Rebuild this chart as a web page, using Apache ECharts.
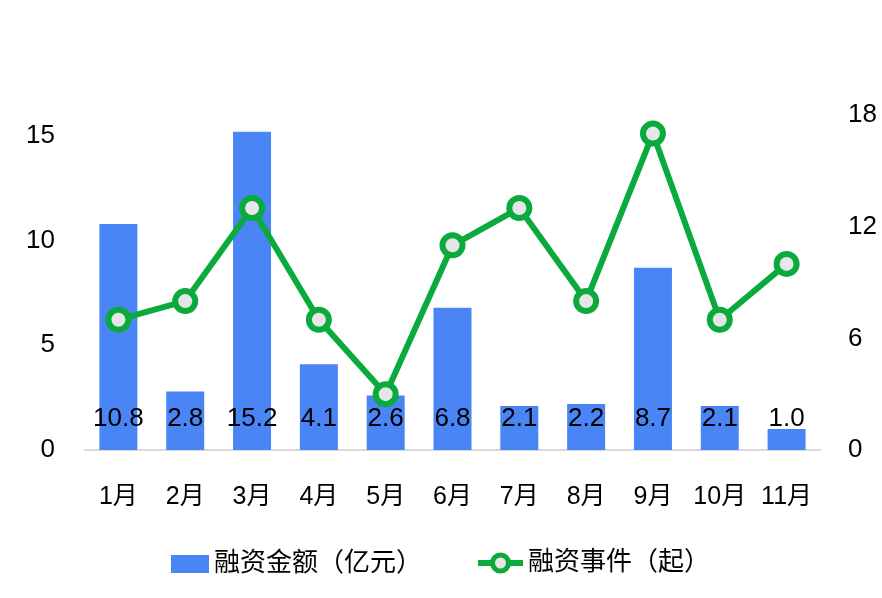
<!DOCTYPE html>
<html><head><meta charset="utf-8">
<script src="https://cdn.jsdelivr.net/npm/echarts@6/dist/echarts.min.js"></script>
<style>html,body{margin:0;padding:0;background:#fff}#c{width:882px;height:598px}</style>
</head><body><div id="c"></div>
<script>
const months = ['1月','2月','3月','4月','5月','6月','7月','8月','9月','10月','11月'];
const amounts = [10.8, 2.8, 15.2, 4.1, 2.6, 6.8, 2.1, 2.2, 8.7, 2.1, 1.0];
const events = [7, 8, 13, 7, 3, 11, 13, 8, 17, 7, 10];
const leftTicks = [0, 5, 10, 15];
const rightTicks = [0, 6, 12, 18];
const nameAmount = '融资金额（亿元）';
const nameEvents = '融资事件（起）';

const FONT = "'Liberation Sans', 'Noto Sans CJK SC', sans-serif";
const GREEN = '#0aaa3c';
const chart = echarts.init(document.getElementById('c'), null, {renderer:'canvas'});
chart.setOption({
  animation: false,
  textStyle: {fontFamily: FONT},
  grid: {left: 85, right: 62, top: 115, bottom: 148, containLabel: false},
  legend: [
    {left: 171, top: 551, padding: 0, itemWidth: 38, itemHeight: 18, itemGap: 5,
     textStyle: {fontSize: 26, color: '#000', fontFamily: FONT},
     data: [{name: nameAmount, icon: 'rect'}]},
    {left: 475, top: 550, padding: 0, itemWidth: 45, itemHeight: 20, itemGap: 5,
     textStyle: {fontSize: 26, color: '#000', fontFamily: FONT},
     data: [{name: nameEvents,
       lineStyle: {color: GREEN, width: 6},
       itemStyle: {color: '#e6e6e6', borderColor: GREEN, borderWidth: 5}}]}
  ],
  xAxis: {
    type: 'category', data: months,
    axisTick: {show: false},
    axisLine: {lineStyle: {color: '#d9d9d9', width: 2}},
    axisLabel: {color: '#000', fontSize: 25, margin: 35, interval: 0, hideOverlap: false, fontFamily: FONT}
  },
  yAxis: [
    {type: 'value', min: 0, max: 16, interval: 5,
     splitLine: {show: false}, axisLine: {show: false}, axisTick: {show: false},
     axisLabel: {color: '#000', fontSize: 26, margin: 30, fontFamily: FONT,
       formatter: v => leftTicks.includes(v) ? String(v) : ''}},
    {type: 'value', min: 0, max: 18, interval: 6,
     splitLine: {show: false}, axisLine: {show: false}, axisTick: {show: false},
     axisLabel: {color: '#000', fontSize: 26, margin: 28, fontFamily: FONT,
       formatter: v => rightTicks.includes(v) ? String(v) : ''}}
  ],
  series: [
    {name: nameAmount, type: 'bar', data: amounts, yAxisIndex: 0, barWidth: 38,
     itemStyle: {color: '#4a85f5'},
     label: {show: true, position: 'insideBottom', distance: 18, color: '#000', fontSize: 26,
       fontFamily: FONT, formatter: p => p.value.toFixed(1)}},
    {name: nameEvents, type: 'line', data: events, yAxisIndex: 1,
     symbol: 'circle', symbolSize: 20,
     lineStyle: {color: GREEN, width: 6},
     itemStyle: {color: '#e6e6e6', borderColor: GREEN, borderWidth: 6},
     z: 5}
  ]
});
</script></body></html>
